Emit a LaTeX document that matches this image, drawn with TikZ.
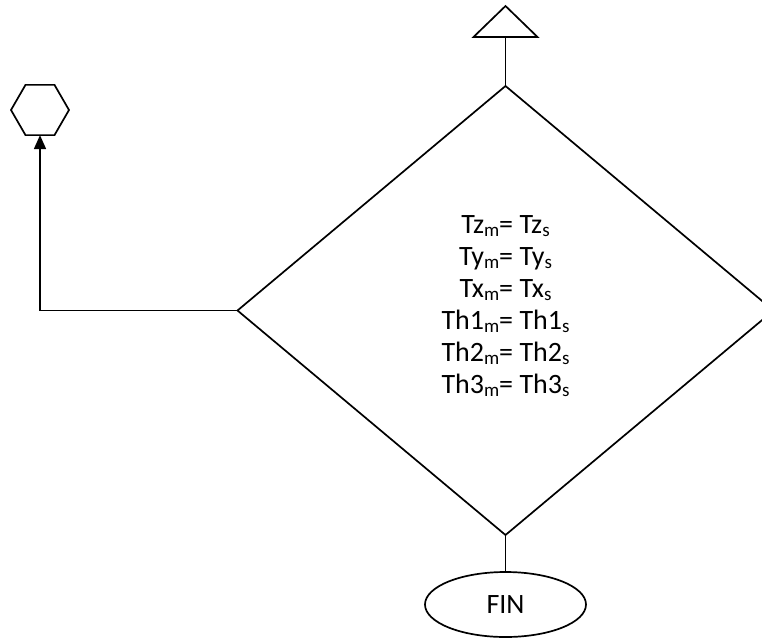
\documentclass[tikz,border=0pt]{standalone}
\usepackage{fontspec}
\setmainfont{Carlito}
\usetikzlibrary{shapes.geometric,arrows.meta}
% lowered, smaller index letter
\newcommand{\lo}[1]{\raisebox{-3pt}{\fontsize{19}{19}\selectfont #1}}

\begin{document}
\begin{tikzpicture}[x=1pt,y=-1pt,line width=1.7pt,
  shapeline/.style={draw=black,line width=1.7pt,inner sep=0pt,outer sep=0pt},
  bigtext/.style={font=\fontsize{28}{32}\selectfont}]
\useasboundingbox (0,0) rectangle (762,637);
\clip (0,0) rectangle (762,637);

% decision diamond (runs off the right edge)
\node[shapeline,diamond,minimum width=536,minimum height=449] (cond) at (505.5,310.5) {};
\node[bigtext,align=center,inner sep=0pt] (eqs) at (505.5,306) {%
  Tz\lo{m}= Tz\lo{s}\\
  Ty\lo{m}= Ty\lo{s}\\
  Tx\lo{m}= Tx\lo{s}\\
  Th1\lo{m}= Th1\lo{s}\\
  Th2\lo{m}= Th2\lo{s}\\
  Th3\lo{m}= Th3\lo{s}};

% connector triangle on top
\coordinate (tri) at (505.5,37);
\draw[line join=miter] (473.5,37) -- (505.5,6) -- (537.5,37) -- cycle;

% hexagon connector on the left
\node[shapeline,regular polygon,regular polygon sides=6,minimum size=58] (hex) at (40,110) {};

% terminal
\node[shapeline,ellipse,minimum width=161,minimum height=65,bigtext] (fin) at (505.5,604.5) {FIN};

% connectors
\draw (tri) -- (cond.north);
\draw (cond.south) -- (fin.north);
\draw[-{Triangle[length=14pt,width=12pt]}] (cond.west) -| (hex.south);
\end{tikzpicture}
\end{document}
